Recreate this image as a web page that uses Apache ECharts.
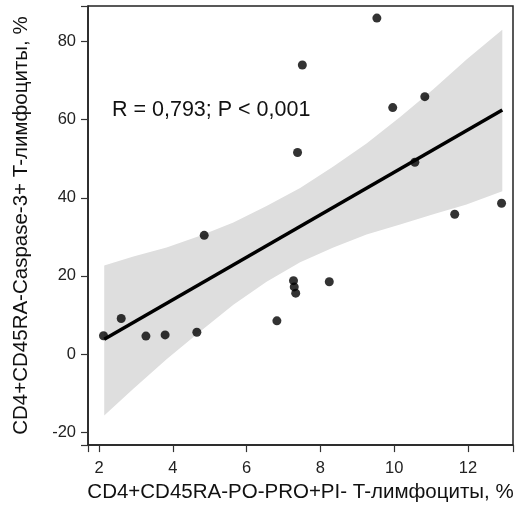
<!DOCTYPE html>
<html>
<head>
<meta charset="utf-8">
<script src="https://cdn.jsdelivr.net/npm/echarts@6/dist/echarts.min.js"></script>
<style>
  html, body { margin: 0; padding: 0; background: #fff; }
  #chart { width: 520px; height: 508px; }
</style>
</head>
<body>
<div id="chart"></div>
<script>
// scatter points
const pointX = [2.12, 2.60, 3.27, 3.79, 4.65, 4.85, 6.82, 7.27, 7.29, 7.33, 8.24, 7.38, 7.51, 9.53, 9.96, 10.83, 10.56, 11.64, 12.91];
const pointY = [4.7, 9.1, 4.6, 4.9, 5.6, 30.4, 8.5, 18.8, 17.2, 15.6, 18.5, 51.6, 74.0, 86.0, 63.1, 65.9, 49.1, 35.8, 38.6];

// fitted line (ends)
const lineX = [2.14, 12.93];
const lineY = [3.8, 62.5];

// confidence band edges
const bandX = [2.14, 2.93, 3.83, 4.74, 5.64, 6.54, 7.45, 8.35, 9.25, 10.16, 11.06, 11.96, 12.93];
const bandUpper = [22.7, 25.0, 27.3, 30.3, 33.7, 37.9, 42.5, 48.0, 53.9, 60.7, 67.8, 75.4, 83.0];
const bandLower = [-15.7, -8.9, -1.3, 5.8, 12.6, 18.5, 23.5, 27.3, 30.6, 33.2, 35.8, 38.3, 41.7];

// tick labels
const xTicks = [2, 4, 6, 8, 10, 12];
const yTicks = [-20, 0, 20, 40, 60, 80];

const font = "Liberation Sans, Arial, sans-serif";

const chart = echarts.init(document.getElementById("chart"));

// white patches hiding the tick stubs echarts adds at the axis ends
const hideEnd = (x, y, w, h) => ({
  type: "rect", silent: true,
  shape: { x: x, y: y, width: w, height: h },
  style: { fill: "#fff" }
});

chart.setOption({
  animation: false,
  grid: {
    left: 88, right: 7, top: 6, bottom: 58,
    show: true,
    borderColor: "#222",
    borderWidth: 1.5,
    backgroundColor: "transparent"
  },
  xAxis: {
    type: "value",
    min: 1.70,
    max: 13.22,
    name: "CD4+CD45RA-PO-PRO+PI- T-лимфоциты, %",
    nameLocation: "middle",
    nameGap: 36,
    nameTextStyle: { fontFamily: font, fontSize: 20.5, color: "#111" },
    axisLine: { show: true, onZero: false, lineStyle: { color: "#222", width: 1.5 } },
    splitLine: { show: false },
    // ticks follow the label customValues
    axisTick: {
      show: true, inside: false, length: 7,
      lineStyle: { color: "#333", width: 1.2 }
    },
    axisLabel: {
      customValues: xTicks,
      margin: 15,
      fontFamily: font, fontSize: 16.5, color: "#222"
    }
  },
  yAxis: {
    type: "value",
    min: -23.3,
    max: 89.1,
    name: "CD4+CD45RA-Caspase-3+ T-лимфоциты, %",
    nameLocation: "middle",
    nameGap: 56,
    nameRotate: 90,
    nameTextStyle: { fontFamily: font, fontSize: 20.5, color: "#111" },
    axisLine: { show: true, onZero: false, lineStyle: { color: "#222", width: 1.5 } },
    splitLine: { show: false },
    axisTick: {
      show: true, inside: false, length: 7,
      lineStyle: { color: "#333", width: 1.2 }
    },
    axisLabel: {
      customValues: yTicks,
      margin: 12,
      fontFamily: font, fontSize: 16.5, color: "#222"
    }
  },
  graphic: {
    zlevel: 1,
    elements: [
      {
        type: "text",
        x: 112,
        y: 110,
        style: {
          text: "R = 0,793; P < 0,001",
          fontFamily: font,
          fontSize: 21.5,
          fill: "#111",
          verticalAlign: "middle"
        }
      },
      hideEnd(84.5, 451.2, 7, 11),
      hideEnd(510, 451.2, 7, 11),
      hideEnd(74, 441, 13.2, 13),
      hideEnd(74, 0, 13.2, 10)
    ]
  },
  series: [
    {
      type: "custom",
      name: "band",
      data: [0],
      z: 1,
      silent: true,
      renderItem: function (params, api) {
        const pts = [];
        for (let i = 0; i < bandX.length; i++) pts.push(api.coord([bandX[i], bandUpper[i]]));
        for (let i = bandX.length - 1; i >= 0; i--) pts.push(api.coord([bandX[i], bandLower[i]]));
        return {
          type: "polygon",
          shape: { points: pts },
          style: { fill: "#dedede", stroke: "none" }
        };
      }
    },
    {
      type: "line",
      name: "fit",
      data: lineX.map((x, i) => [x, lineY[i]]),
      showSymbol: false,
      symbol: "none",
      z: 3,
      lineStyle: { color: "#000", width: 3.5 }
    },
    {
      type: "scatter",
      name: "points",
      data: pointX.map((x, i) => [x, pointY[i]]),
      symbol: "circle",
      symbolSize: 9,
      z: 4,
      itemStyle: { color: "#000" }
    }
  ]
});
</script>
</body>
</html>
